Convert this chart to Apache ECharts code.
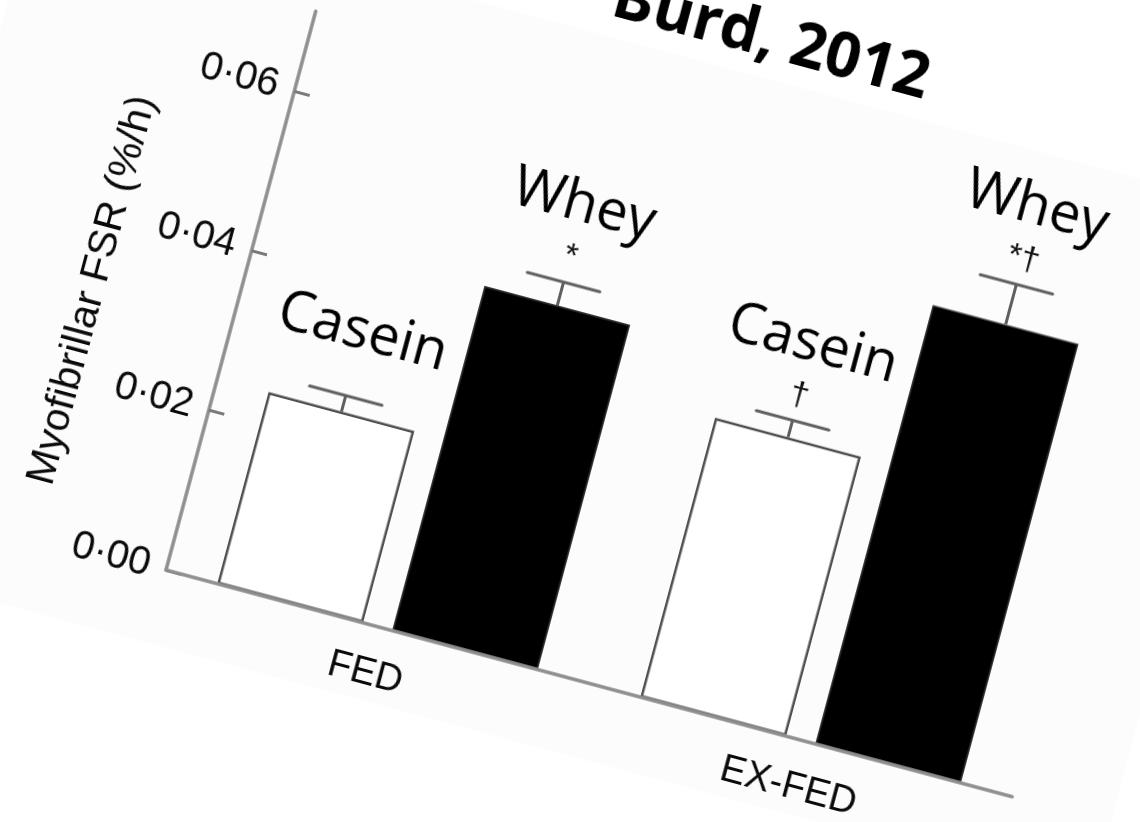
<!DOCTYPE html>
<html>
<head>
<meta charset="utf-8">
<title>Myofibrillar FSR — Burd, 2012</title>
<script src="https://cdn.jsdelivr.net/npm/echarts@6/dist/echarts.min.js"></script>
<style>
  html, body { margin: 0; padding: 0; width: 1140px; height: 822px; overflow: hidden; background: #ffffff; }
  /* The whole figure sits on a sheet turned 15° clockwise about the axes' origin */
  #stage {
    position: absolute; left: -300px; top: -200px;
    width: 1500px; height: 1050px;
    transform-origin: 466px 770px;
    transform: rotate(15deg);
  }
  #paper {
    position: absolute; left: 166px; top: 140px;
    width: 1278px; height: 705px;
    background: #fcfcfc;
  }
  #chart { position: absolute; left: 0; top: 0; width: 1500px; height: 1050px; }
</style>
</head>
<body>
<div id="stage">
  <div id="paper"></div>
  <div id="chart"></div>
</div>
<script>
// ---- data ----
const categories = ['FED', 'EX-FED'];
const seriesNames = ['Casein', 'Whey'];
const caseinMean = [0.024, 0.035];
const caseinSE = [0.002, 0.0021];
const wheyMean = [0.0432, 0.055];
const wheySE = [0.0029, 0.005];
const caseinMarks = ['', '\u2020'];
const wheyMarks = ['*', '*\u2020'];
const yTicks = [0, 0.02, 0.04, 0.06];
const yMax = 0.07;
const titleText = 'Burd, 2012';
const yAxisName = 'Myofibrillar FSR (%/h)';

// ---- layout & style ----
const ORIGIN_X = 466, ORIGIN_Y = 770;     // axes origin inside the chart canvas
const PLOT_W = 876, PLOT_H = 578.6;
const BAR_W = 151, BAR_GAP_PX = 30;
const BAR_OFFSET = (BAR_W + BAR_GAP_PX) / 2;
const CAP_W = 75;
const ERR_COLOR = '#5f5f5f';
const AXIS_COLOR = '#8e8e8e';
const LABEL_FONT = '"Open Sans", "Noto Sans", sans-serif';
const AXIS_FONT = '"Liberation Sans", Arial, sans-serif';
const LABEL_SIZE = 56;
const TITLE_SIZE = 62;
const MARK_SIZE = 34;

const fmt = v => v.toFixed(2).replace('.', '\u00b7');

function errorSeries(name, means, ses, marks, side) {
  return {
    type: 'custom',
    name: name,
    z: 4,
    silent: true,
    data: means.map((m, i) => [i, m, ses[i]]),
    encode: { x: 0, y: 1 },
    renderItem: function (params, api) {
      const i = api.value(0), m = api.value(1), se = api.value(2);
      const p0 = api.coord([i, m]);
      const p1 = api.coord([i, m + se]);
      const x = p0[0] + side * BAR_OFFSET;
      const mark = marks[params.dataIndex];
      const children = [
        { type: 'line', shape: { x1: x, y1: p0[1], x2: x, y2: p1[1] },
          style: { stroke: ERR_COLOR, lineWidth: 3 } },
        { type: 'line', shape: { x1: x - CAP_W / 2, y1: p1[1], x2: x + CAP_W / 2, y2: p1[1] },
          style: { stroke: ERR_COLOR, lineWidth: 3, lineCap: 'round' } }
      ];
      if (mark) {
        children.push({
          type: 'text', x: x, y: p1[1] - 26,
          style: { text: mark, fill: '#111', fontSize: MARK_SIZE, fontFamily: AXIS_FONT,
                   align: 'center', verticalAlign: 'middle',
                   textAlign: 'center', textVerticalAlign: 'middle' }
        });
      }
      const baseline = p1[1] - (mark ? 57 : 43);
      children.push({
        type: 'text', x: x, y: baseline - 0.388 * LABEL_SIZE,
        style: { text: name, fill: '#000', fontSize: LABEL_SIZE, fontFamily: LABEL_FONT,
                 align: 'center', verticalAlign: 'middle',
                 textAlign: 'center', textVerticalAlign: 'middle' }
      });
      return { type: 'group', children: children };
    }
  };
}

const chart = echarts.init(document.getElementById('chart'), null, { renderer: 'canvas' });

chart.setOption({
  backgroundColor: 'transparent',
  animation: false,
  grid: {
    left: ORIGIN_X, top: ORIGIN_Y - PLOT_H, width: PLOT_W, height: PLOT_H,
    containLabel: false, outerBoundsMode: 'none'
  },
  graphic: [{
    type: 'text',
    x: ORIGIN_X + 447, y: ORIGIN_Y - 645 - 0.388 * TITLE_SIZE,
    style: { text: titleText, fill: '#000', fontSize: TITLE_SIZE, fontWeight: 'bold', fontFamily: LABEL_FONT,
             align: 'center', verticalAlign: 'middle', textAlign: 'center', textVerticalAlign: 'middle' }
  }],
  xAxis: {
    type: 'category',
    data: categories,
    z: 3,
    axisLine: { lineStyle: { color: AXIS_COLOR, width: 3.5 } },
    axisTick: { show: false },
    axisLabel: { margin: 30, color: '#0a0a0a', fontSize: 38, fontFamily: AXIS_FONT }
  },
  yAxis: {
    type: 'value',
    min: 0, max: yMax, interval: 0.02,
    name: yAxisName,
    nameLocation: 'middle',
    nameRotate: 90,
    nameGap: 123,
    nameMoveOverlap: false,
    nameTextStyle: { color: '#0a0a0a', fontSize: 41, fontFamily: AXIS_FONT, padding: [0, 76, 0, 0] },
    splitLine: { show: false },
    axisLine: { show: true, lineStyle: { color: AXIS_COLOR, width: 3.5 } },
    axisTick: { show: true, inside: true, length: 16, customValues: yTicks,
                lineStyle: { color: '#7a7a7a', width: 3 } },
    axisLabel: {
      customValues: yTicks,
      margin: 17, color: '#0a0a0a', fontSize: 40, fontFamily: AXIS_FONT,
      formatter: v => (yTicks.some(t => Math.abs(t - v) < 1e-9) ? fmt(v) : '')
    }
  },
  series: [
    {
      type: 'bar', name: seriesNames[0], data: caseinMean,
      barWidth: BAR_W, barGap: (BAR_GAP_PX / BAR_W * 100) + '%',
      itemStyle: { color: '#ffffff', borderColor: '#505050', borderWidth: 2.5 }
    },
    {
      type: 'bar', name: seriesNames[1], data: wheyMean,
      barWidth: BAR_W,
      itemStyle: { color: '#000000', borderColor: '#3a3a3a', borderWidth: 1.5 }
    },
    errorSeries(seriesNames[0], caseinMean, caseinSE, caseinMarks, -1),
    errorSeries(seriesNames[1], wheyMean, wheySE, wheyMarks, 1)
  ]
});
</script>
</body>
</html>
